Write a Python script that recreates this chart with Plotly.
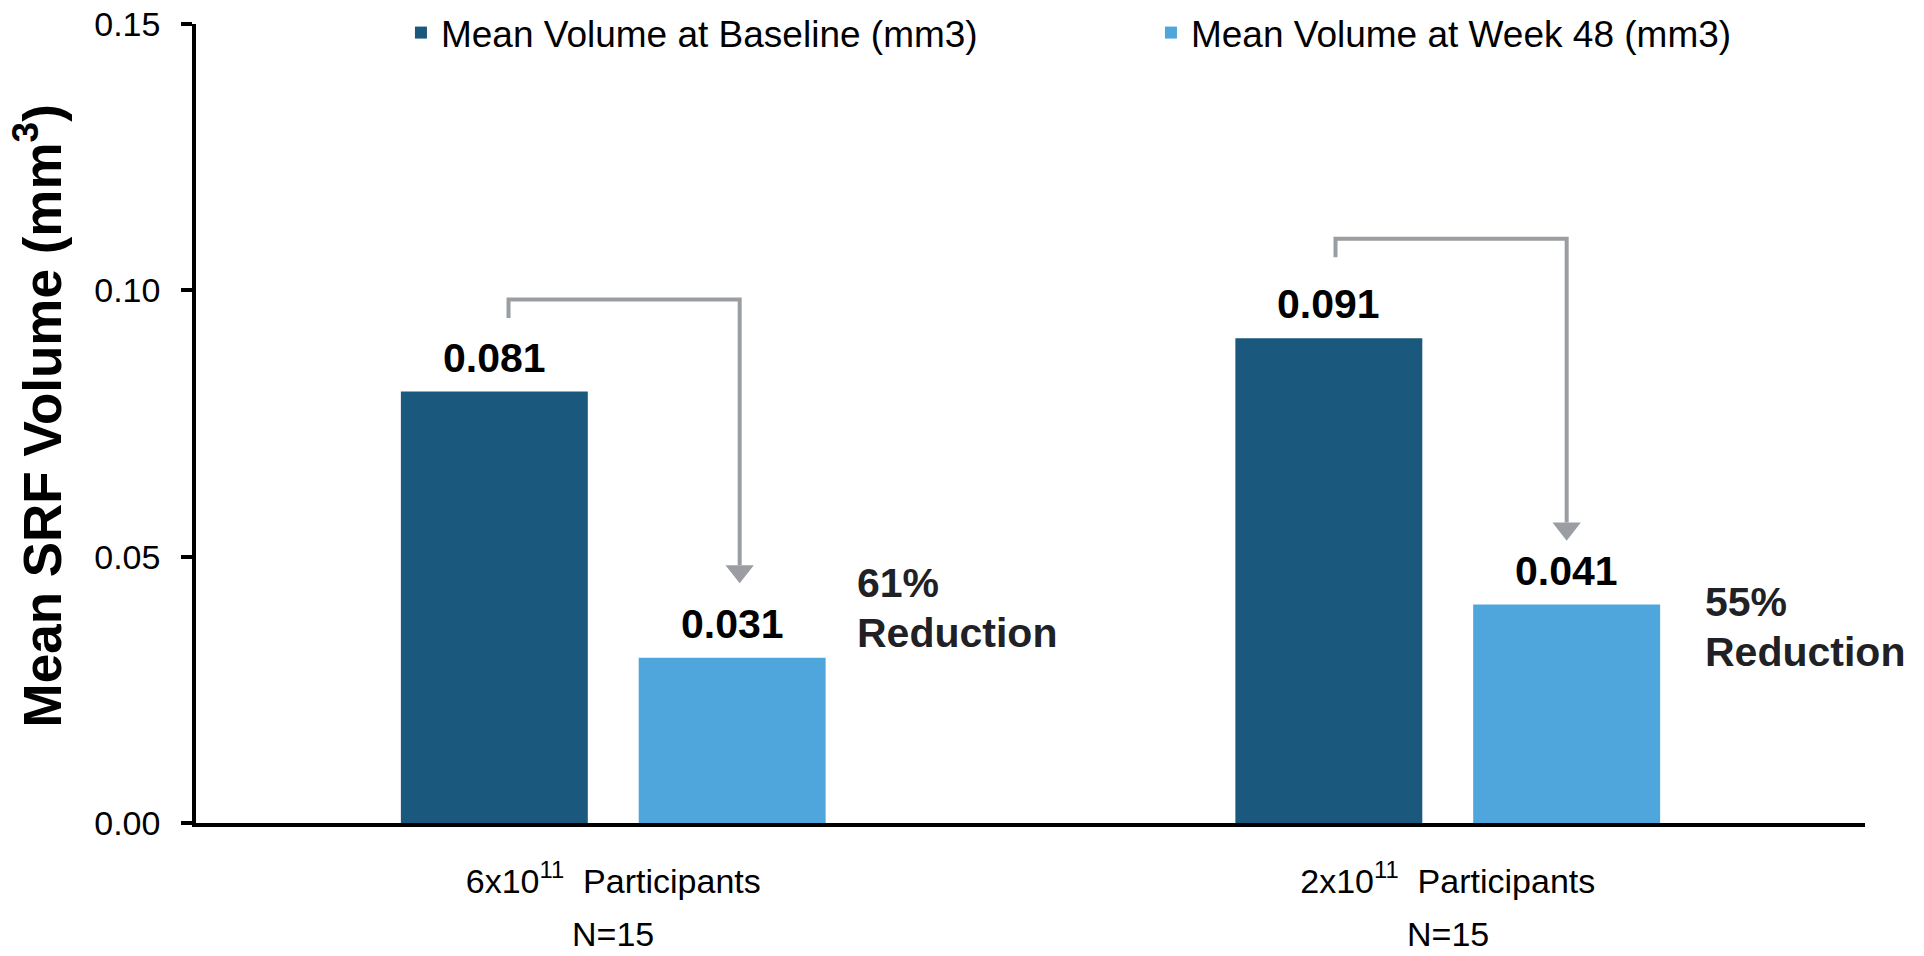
import plotly.graph_objects as go

# ---- data -------------------------------------------------------------
groups = ["6x10<sup>11</sup>  Participants", "2x10<sup>11</sup>  Participants"]
group_n = ["N=15", "N=15"]
baseline = [0.081, 0.091]
week48 = [0.031, 0.041]
reduction_pct = ["61%", "55%"]
reduction_word = "Reduction"
series_names = ["Mean Volume at Baseline (mm3)", "Mean Volume at Week 48 (mm3)"]
y_ticks = [0.00, 0.05, 0.10, 0.15]

# ---- style ------------------------------------------------------------
DARK = "#1b587d"
LIGHT = "#4ea6dc"
GREY = "#9a9da1"
FONT = "Arial, Liberation Sans, sans-serif"

BAR_W = 0.224      # bar width in category units
INNER_GAP = 0.061  # gap between the two bars of a group

xs = list(range(len(groups)))
off_base = -(BAR_W + INNER_GAP / 2)
off_w48 = INNER_GAP / 2
c_base = [x + off_base + BAR_W / 2 for x in xs]
c_w48 = [x + off_w48 + BAR_W / 2 for x in xs]

fig = go.Figure()
fig.add_trace(go.Bar(x=xs, y=baseline, name=series_names[0], marker_color=DARK,
                     width=BAR_W, offset=off_base, marker_line_width=0))
fig.add_trace(go.Bar(x=xs, y=week48, name=series_names[1], marker_color=LIGHT,
                     width=BAR_W, offset=off_w48, marker_line_width=0))

annotations = []
# value labels above each bar
for cx, v in list(zip(c_base, baseline)) + list(zip(c_w48, week48)):
    annotations.append(dict(x=cx, y=v, xref="x", yref="y", text=f"{v:.3f}",
                            showarrow=False, yanchor="bottom", yshift=9,
                            font=dict(family=FONT, size=41, color="#000000", weight="bold")))

# reduction call-outs (two lines, tighter than the default line height)
red_pos = [(0.2894, 0.0497), (1.3056, 0.0462)]
red_font = dict(family=FONT, size=41, color="#1f2125", weight="bold")
for (rx, ry), pct in zip(red_pos, reduction_pct):
    annotations.append(dict(x=rx, y=ry, xref="x", yref="y", text=pct, showarrow=False,
                            xanchor="left", yanchor="top", font=red_font))
    annotations.append(dict(x=rx, y=ry, xref="x", yref="y", text=reduction_word,
                            showarrow=False, xanchor="left", yanchor="top", yshift=-50,
                            font=red_font))

# N under each group
for x, n in zip(xs, group_n):
    annotations.append(dict(x=x, y=-0.1389, xref="x", yref="paper", text=n,
                            showarrow=False, yanchor="middle",
                            font=dict(family=FONT, size=34, color="#000000")))

# y-axis title
annotations.append(dict(x=-0.0947, y=0.51, xref="paper", yref="paper",
                        text="Mean SRF Volume (mm<sup>3</sup>)", textangle=-90,
                        showarrow=False, xanchor="center", yanchor="middle",
                        font=dict(family=FONT, size=53, color="#000000", weight="bold")))

# bracket arrows from baseline bar to week-48 bar
shapes = []
HEAD_W = 0.034   # x units
HEAD_H = 0.0034  # y units
left_dx = [0.017, 0.008]
right_dx = [0.009, 0.0]
top_gap = [0.0173, 0.0187]
tip_gap = [0.014, 0.012]
for i, x in enumerate(xs):
    x_left = c_base[i] + left_dx[i]
    x_right = c_w48[i] + right_dx[i]
    top = baseline[i] + top_gap[i]
    stub = top - 0.0035
    tip = week48[i] + tip_gap[i]
    base = tip + HEAD_H
    shapes.append(dict(type="path", xref="x", yref="y",
                       path=f"M{x_left},{stub} L{x_left},{top} L{x_right},{top} L{x_right},{base}",
                       line=dict(color=GREY, width=4)))
    shapes.append(dict(type="path", xref="x", yref="y",
                       path=f"M{x_right - HEAD_W / 2},{base} L{x_right + HEAD_W / 2},{base} L{x_right},{tip} Z",
                       fillcolor=GREY, line=dict(color=GREY, width=0)))

fig.update_layout(
    width=1924, height=956,
    margin=dict(l=196, r=59, t=24, b=133, autoexpand=False),
    paper_bgcolor="white", plot_bgcolor="white",
    barmode="overlay",
    font=dict(family=FONT, color="#000000"),
    showlegend=True,
    legend=dict(orientation="h", x=0.1228, xanchor="left", y=0.9887, yanchor="middle",
                entrywidthmode="pixels", entrywidth=705,
                font=dict(family=FONT, size=37, color="#000000"),
                bgcolor="rgba(0,0,0,0)", traceorder="normal"),
    annotations=annotations,
    shapes=shapes,
    xaxis=dict(range=[-0.5, 1.5], tickvals=xs, ticktext=groups,
               showline=True, linecolor="#000000", linewidth=3.5,
               ticks="", showgrid=False, zeroline=False,
               tickfont=dict(family=FONT, size=34, color="#000000"),
               ticklabelstandoff=25),
    yaxis=dict(range=[0, 0.15], tickvals=y_ticks, tickformat=".2f",
               showline=True, linecolor="#000000", linewidth=3.5,
               ticks="outside", ticklen=11, tickwidth=3.5, tickcolor="#000000",
               showgrid=False, zeroline=False,
               tickfont=dict(family=FONT, size=34, color="#000000"),
               ticklabelstandoff=14),
)

fig.write_html("out.html")
